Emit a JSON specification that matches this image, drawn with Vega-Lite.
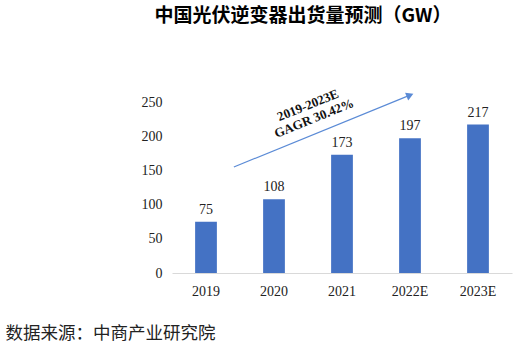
{
  "$schema": "https://vega.github.io/schema/vega-lite/v6.json",
  "width": 340,
  "height": 171,
  "autosize": {"type": "none"},
  "padding": {"left": 172, "top": 102, "right": 11, "bottom": 82},
  "background": "white",
  "config": {"view": {"stroke": null}, "font": "Liberation Serif", "axis": {"labelFont": "Liberation Serif"}, "text": {"font": "Liberation Serif"}},
  "title": {"text": "中国光伏逆变器出货量预测（GW）", "font": "Noto Sans CJK SC", "fontSize": 19, "fontWeight": "bold", "anchor": "middle", "dx": -39, "offset": 62, "color": "#000000"},
  "datasets": {
    "main": [
      {"year": "2019", "value": 75},
      {"year": "2020", "value": 108},
      {"year": "2021", "value": 173},
      {"year": "2022E", "value": 197},
      {"year": "2023E", "value": 217}
    ],
    "arrow": [{"x": 0.91, "y": 155, "x2": 3.5, "y2": 260}],
    "ann": [
      {"x": 2.0, "y": 245, "label": "2019-2023E"},
      {"x": 2.09, "y": 226, "label": "GAGR 30.42%"}
    ]
  },
  "resolve": {"scale": {"x": "independent"}, "axis": {"x": "independent", "y": "independent"}},
  "layer": [
    {
      "data": {"name": "main"},
      "encoding": {
        "x": {"field": "year", "type": "nominal", "sort": null,
          "scale": {"paddingInner": 0.68, "paddingOuter": 0.34},
          "axis": {"title": "数据来源：中商产业研究院", "titleFont": "Noto Sans CJK SC", "titleFontSize": 17.5, "titleFontWeight": "normal", "titleColor": "#222222", "titleAnchor": "start", "titleAlign": "left", "titleX": -167, "titleY": 60, "titleBaseline": "middle",
            "labelAngle": 0, "labelFont": "Liberation Serif", "labelFontSize": 14, "labelColor": "#222222", "labelPadding": 11, "ticks": false, "domainColor": "#d9d9d9", "grid": false}},
        "y": {"field": "value", "type": "quantitative",
          "scale": {"domain": [0, 250], "nice": false, "zero": true},
          "axis": {"title": null, "values": [0, 50, 100, 150, 200, 250], "labelOverlap": false, "domain": false, "ticks": false, "grid": false, "labelFont": "Liberation Serif", "labelFontSize": 14, "labelColor": "#222222", "labelPadding": 10}}
      },
      "layer": [
        {"mark": {"type": "bar", "color": "#4472C4"}},
        {"mark": {"type": "text", "baseline": "bottom", "dy": -5, "font": "Liberation Serif", "fontSize": 14, "color": "#222222"}, "encoding": {"text": {"field": "value"}}}
      ]
    },
    {
      "layer": [
        {
          "data": {"name": "arrow"},
          "mark": {"type": "rule", "color": "#5B8BD6", "strokeWidth": 1.2},
          "encoding": {
            "x": {"field": "x", "type": "quantitative", "scale": {"domain": [0, 5]}, "axis": null},
            "x2": {"field": "x2"},
            "y": {"field": "y", "type": "quantitative", "scale": {"domain": [0, 250], "nice": false}, "axis": null},
            "y2": {"field": "y2"}
          }
        },
        {
          "data": {"name": "arrow"},
          "mark": {"type": "point", "shape": "triangle-right", "filled": true, "color": "#5B8BD6", "size": 70, "angle": 338, "opacity": 1},
          "encoding": {
            "x": {"field": "x2", "type": "quantitative", "scale": {"domain": [0, 5]}, "axis": null},
            "y": {"field": "y2", "type": "quantitative", "scale": {"domain": [0, 250], "nice": false}, "axis": null}
          }
        },
        {
          "data": {"name": "ann"},
          "mark": {"type": "text", "angle": 338, "font": "Liberation Serif", "fontSize": 13, "fontWeight": "bold", "color": "#111111"},
          "encoding": {
            "x": {"field": "x", "type": "quantitative", "scale": {"domain": [0, 5]}, "axis": null},
            "y": {"field": "y", "type": "quantitative", "scale": {"domain": [0, 250], "nice": false}, "axis": null},
            "text": {"field": "label"}
          }
        }
      ]
    }
  ]
}
